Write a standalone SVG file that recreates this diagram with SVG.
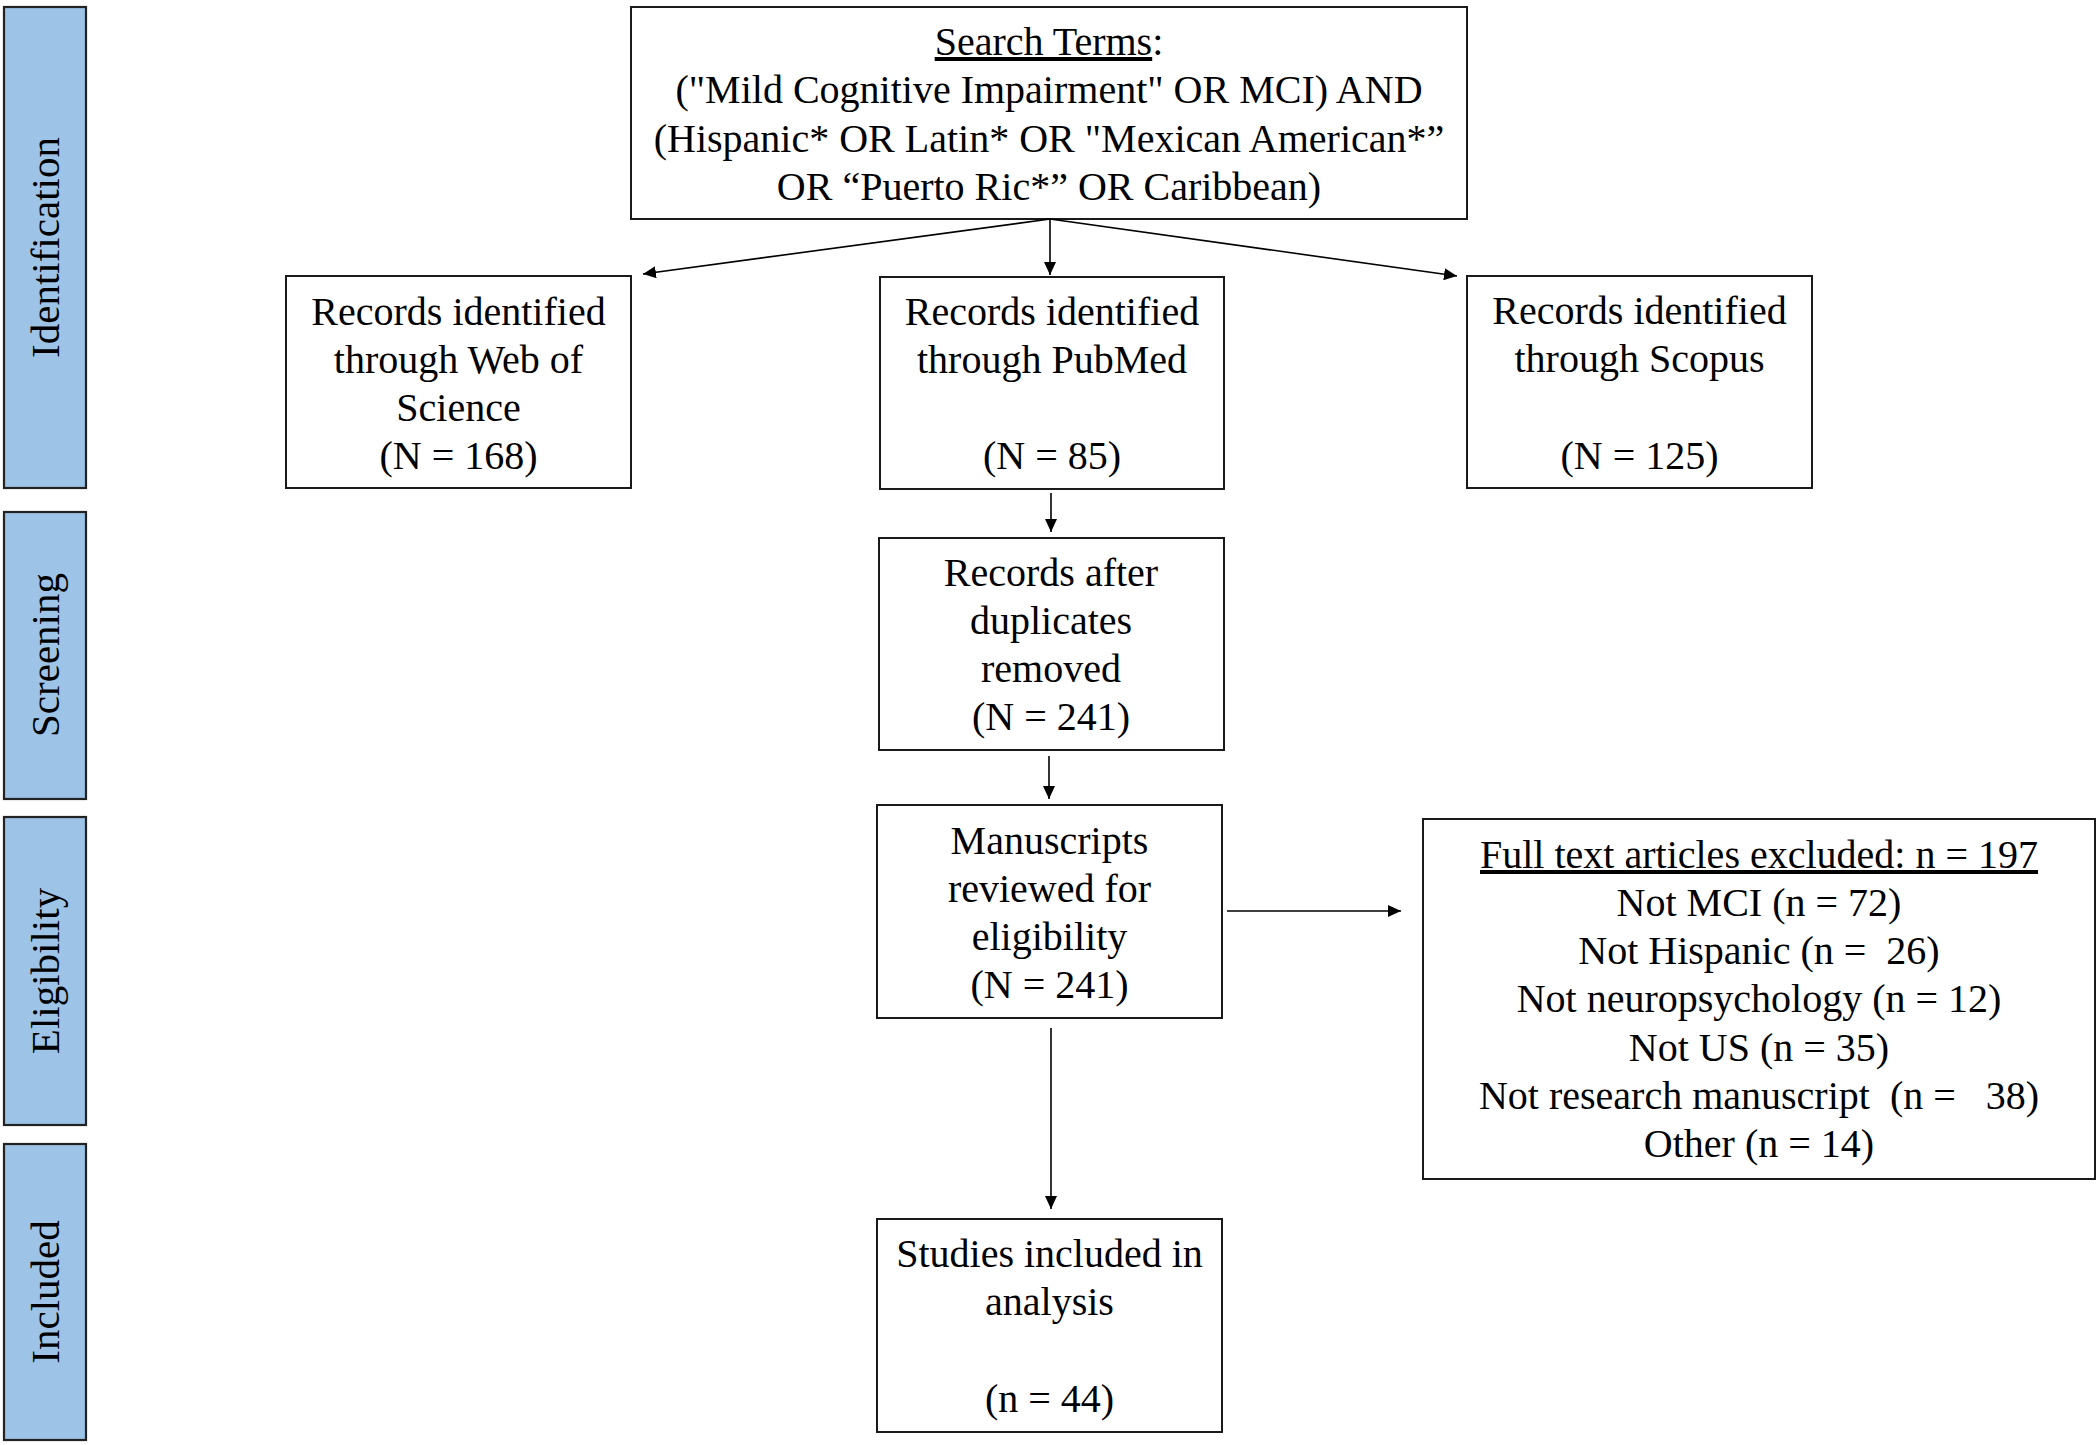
<svg xmlns="http://www.w3.org/2000/svg" width="2100" height="1445" viewBox="0 0 2100 1445">
<style>
.bg{fill:#ffffff}
.box{fill:#ffffff;stroke:#1a1a1a;stroke-width:2}
.bar{fill:#9dc3e6;stroke:#222222;stroke-width:2.2}
.t{font-family:"Liberation Serif","Times New Roman",serif;font-size:40px;fill:#000;text-anchor:middle}
.lbl{font-family:"Liberation Serif","Times New Roman",serif;font-size:41px;fill:#000;text-anchor:middle}
.u{text-decoration:underline}
.c{fill:none;stroke:#000;stroke-width:1.6}
</style>
<defs>
<marker id="ah" markerUnits="userSpaceOnUse" markerWidth="13" markerHeight="12" refX="13" refY="6" orient="auto">
<path d="M0,0 L13,6 L0,12 z" fill="#000"/>
</marker>
</defs>
<rect class="bg" x="0" y="0" width="2100" height="1445"/>

<g id="stage-identification">
<rect class="bar" x="4" y="7" width="82" height="481"/>
<text class="lbl" transform="translate(59,247.5) rotate(-90)">Identification</text>
</g>
<g id="stage-screening">
<rect class="bar" x="4" y="512" width="82" height="287"/>
<text class="lbl" transform="translate(59,655) rotate(-90)">Screening</text>
</g>
<g id="stage-eligibility">
<rect class="bar" x="4" y="817" width="82" height="308"/>
<text class="lbl" transform="translate(59,971) rotate(-90)">Eligibility</text>
</g>
<g id="stage-included">
<rect class="bar" x="4" y="1144" width="82" height="296"/>
<text class="lbl" transform="translate(59,1292) rotate(-90)">Included</text>
</g>

<g id="search-terms">
<rect class="box" x="631" y="7" width="836" height="212"/>
<text class="t" x="1049" y="55"><tspan class="u">Search Terms</tspan>:</text>
<text class="t" x="1049" y="103">("Mild Cognitive Impairment" OR MCI) AND</text>
<text class="t" x="1049" y="152">(Hispanic* OR Latin* OR "Mexican American*”</text>
<text class="t" x="1049" y="200">OR “Puerto Ric*” OR Caribbean)</text>
</g>

<g id="web-of-science">
<rect class="box" x="286" y="276" width="345" height="212"/>
<text class="t" x="458.5" y="325">Records identified</text>
<text class="t" x="458.5" y="373">through Web of</text>
<text class="t" x="458.5" y="421">Science</text>
<text class="t" x="458.5" y="469">(N = 168)</text>
</g>

<g id="pubmed">
<rect class="box" x="880" y="277" width="344" height="212"/>
<text class="t" x="1052" y="325">Records identified</text>
<text class="t" x="1052" y="373">through PubMed</text>
<text class="t" x="1052" y="469">(N = 85)</text>
</g>

<g id="scopus">
<rect class="box" x="1467" y="276" width="345" height="212"/>
<text class="t" x="1639.5" y="324">Records identified</text>
<text class="t" x="1639.5" y="372">through Scopus</text>
<text class="t" x="1639.5" y="469">(N = 125)</text>
</g>

<g id="duplicates-removed">
<rect class="box" x="879" y="538" width="345" height="212"/>
<text class="t" x="1051" y="586">Records after</text>
<text class="t" x="1051" y="634">duplicates</text>
<text class="t" x="1051" y="682">removed</text>
<text class="t" x="1051" y="730">(N = 241)</text>
</g>

<g id="manuscripts-reviewed">
<rect class="box" x="877" y="805" width="345" height="213"/>
<text class="t" x="1049.5" y="854">Manuscripts</text>
<text class="t" x="1049.5" y="902">reviewed for</text>
<text class="t" x="1049.5" y="950">eligibility</text>
<text class="t" x="1049.5" y="998">(N = 241)</text>
</g>

<g id="excluded">
<rect class="box" x="1423" y="819" width="672" height="360"/>
<text class="t" x="1759" y="868"><tspan class="u">Full text articles excluded: n = 197</tspan></text>
<text class="t" x="1759" y="916">Not MCI (n = 72)</text>
<text class="t" x="1759" y="964" xml:space="preserve">Not Hispanic (n =  26)</text>
<text class="t" x="1759" y="1012">Not neuropsychology (n = 12)</text>
<text class="t" x="1759" y="1061">Not US (n = 35)</text>
<text class="t" x="1759" y="1109" xml:space="preserve">Not research manuscript  (n =   38)</text>
<text class="t" x="1759" y="1157">Other (n = 14)</text>
</g>

<g id="studies-included">
<rect class="box" x="877" y="1219" width="345" height="213"/>
<text class="t" x="1049.5" y="1267">Studies included in</text>
<text class="t" x="1049.5" y="1315">analysis</text>
<text class="t" x="1049.5" y="1412">(n = 44)</text>
</g>

<g id="connectors">
<line class="c" x1="1050" y1="219" x2="643" y2="274" marker-end="url(#ah)"/>
<line class="c" x1="1050" y1="219" x2="1050" y2="275" marker-end="url(#ah)"/>
<line class="c" x1="1050" y1="219" x2="1457" y2="276" marker-end="url(#ah)"/>
<line class="c" x1="1051" y1="493" x2="1051" y2="532" marker-end="url(#ah)"/>
<line class="c" x1="1049" y1="756" x2="1049" y2="799" marker-end="url(#ah)"/>
<line class="c" x1="1227" y1="911" x2="1401" y2="911" marker-end="url(#ah)"/>
<line class="c" x1="1051" y1="1028" x2="1051" y2="1209" marker-end="url(#ah)"/>
</g>
</svg>
